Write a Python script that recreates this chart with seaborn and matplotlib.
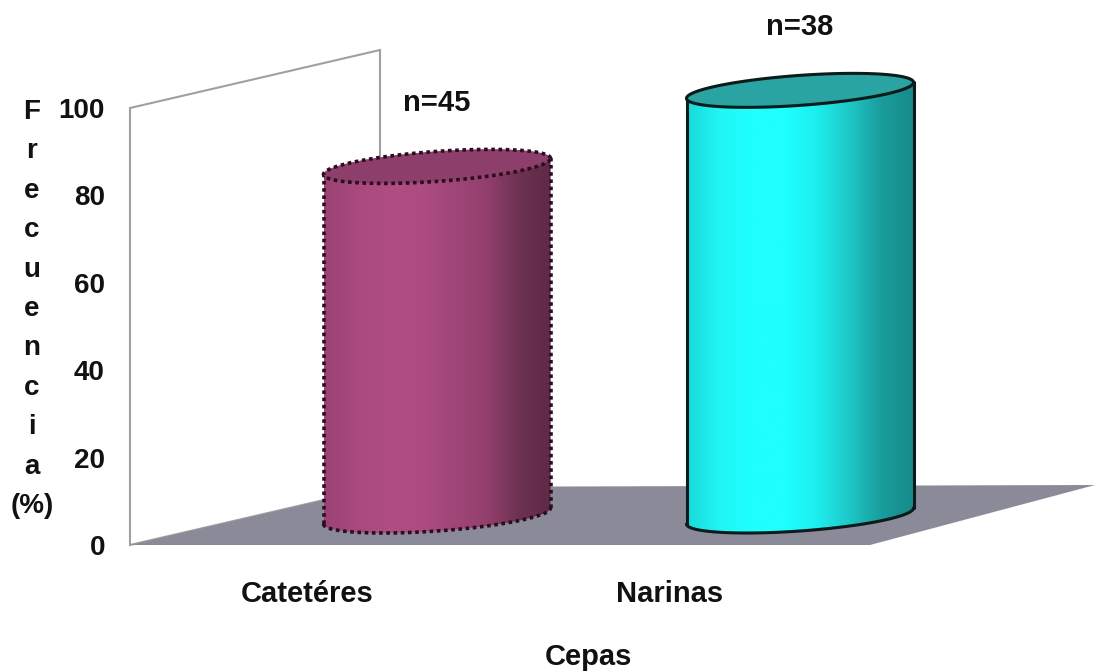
import numpy as np
import pandas as pd
import matplotlib.pyplot as plt
import seaborn as sns
from matplotlib.patches import Polygon
from matplotlib.colors import LinearSegmentedColormap

# Data
cepas = ['Catetéres', 'Narinas']
frecuencia = [80.0, 97.4]
n_labels = ['n=45', 'n=38']
yticks = [0, 20, 40, 60, 80, 100]

# Colours (body base, top cap, shading across the cylinder, outline)
body_colors = ['#A84A7D', '#1EFFFF']
top_colors = ['#8E3E6A', '#2AA3A3']
shades = [
    ['#9B4275', '#A84A7D', '#B04D82', '#AE4C81', '#A04678', '#93406E', '#6E3252', '#5E2A47'],
    ['#1ADADA', '#22F5F5', '#1EFFFF', '#1EFFFF', '#1DEEEE', '#20C8C8', '#1A9C9C', '#178A8A'],
]
edge_colors = ['#2B0E1E', '#0B1A1A']
edge_styles = [(0, (1, 1)), '-']

df = pd.DataFrame({'Cepas': cepas, 'Frecuencia': frecuencia})

sns.set_style('white')
plt.rcParams['font.family'] = ['Liberation Sans', 'DejaVu Sans']
plt.rcParams['font.weight'] = 'bold'
plt.rcParams['text.color'] = '#111111'
plt.rcParams['axes.labelcolor'] = '#111111'
plt.rcParams['xtick.color'] = '#111111'
plt.rcParams['ytick.color'] = '#111111'

W, H = 1099, 671
fig = plt.figure(figsize=(W / 100, H / 100), dpi=100)


def px_box(left, bottom, width, height):
    return [left / W, (H - bottom) / H, width / W, height / H]


# geometry of the fake 3D frame (pixels)
ax_w, ax_h = 965, 437
depth_x, depth_y = 250, 58
unit = 363
xmin = -(307 - 130) / unit
xlim = (xmin, xmin + ax_w / unit)
px_per_y = ax_h / 100

# front axes: ticks, labels, wall and floor
ax = fig.add_axes(px_box(130, 545, ax_w, ax_h))
ax.set_xlim(*xlim)
ax.set_ylim(0, 100)
for s in ax.spines.values():
    s.set_visible(False)
ax.patch.set_alpha(0)

wall = Polygon([(0, 0), (0, 1), (depth_x / ax_w, 1 + depth_y / ax_h), (depth_x / ax_w, depth_y / ax_h)],
               closed=True, facecolor='white', edgecolor='#A0A0A0', lw=1.5,
               transform=ax.transAxes, clip_on=False, zorder=0)
floor = Polygon([(0, 0), ((870 - 130) / ax_w, 0), (1.0, 60 / ax_h), (depth_x / ax_w, depth_y / ax_h)],
                closed=True, facecolor='#8B8A98', edgecolor='none',
                transform=ax.transAxes, clip_on=False, zorder=1)
ax.add_patch(wall)
ax.add_patch(floor)

ax.set_yticks(yticks)
ax.set_yticklabels([str(v) for v in yticks], fontsize=20, fontweight='bold')
ax.set_xticks(range(len(cepas)))
ax.set_xticklabels(cepas, fontsize=21, fontweight='bold')
ax.tick_params(axis='y', length=0, pad=18)
ax.tick_params(axis='x', length=0, pad=25)

ax.set_xlabel('Cepas', fontsize=21, fontweight='bold')
ax.xaxis.set_label_coords((588 - 130) / ax_w, -0.224)
ax.set_ylabel('\n'.join(list('Frecuencia') + ['(%)']), fontsize=20, fontweight='bold',
              rotation=0, ha='center', va='center', linespacing=1.67)
ax.yaxis.set_label_coords((32 - 130) / ax_w, (545 - 309) / ax_h)

# bar axes, shifted half the depth back
ax_bar = fig.add_axes(px_box(130 + 130, 545 - 29, ax_w, ax_h))
sns.barplot(data=df, x='Cepas', y='Frecuencia', hue='Cepas', palette=body_colors,
            width=227 / unit, saturation=1, legend=False, ax=ax_bar)

b = 15 / px_per_y   # ellipse half height
k = 8 / px_per_y    # tilt of the ellipse
t = np.linspace(0, 2 * np.pi, 241)
lower = np.linspace(np.pi, 2 * np.pi, 121)
upper = np.linspace(0, np.pi, 121)

for i, p in enumerate(ax_bar.patches):
    x0, w, h = p.get_x(), p.get_width(), p.get_height()
    cx = x0 + w / 2

    def ell(cy, tt):
        return np.column_stack([cx + w / 2 * np.cos(tt), cy + b * np.sin(tt) + k * np.cos(tt)])

    outline = np.vstack([ell(0, lower), ell(h, upper)])
    sil = Polygon(outline, closed=True, transform=ax_bar.transData, facecolor='none', edgecolor='none')
    p.set_clip_box(fig.bbox)
    p.set_clip_path(sil)

    cmap = LinearSegmentedColormap.from_list('c%d' % i, shades[i])
    grad = cmap(np.linspace(0, 1, 256))[np.newaxis, :, :]
    im = ax_bar.imshow(grad, extent=(x0, x0 + w, -k - b - 2, h + k + b + 2),
                       aspect='auto', interpolation='bilinear', zorder=2)
    im.set_clip_box(fig.bbox)
    im.set_clip_path(sil)

    ec, ls = edge_colors[i], edge_styles[i]
    lw = 2.6 if i == 0 else 2.2
    bot = ell(0, lower)
    ax_bar.plot(bot[:, 0], bot[:, 1], color=ec, ls=ls, lw=lw, zorder=3, clip_on=False)
    ax_bar.plot([x0, x0], [-k, h - k], color=ec, ls=ls, lw=lw, zorder=3, clip_on=False)
    ax_bar.plot([x0 + w, x0 + w], [k, h + k], color=ec, ls=ls, lw=lw, zorder=3, clip_on=False)
    cap = Polygon(ell(h, t), closed=True, facecolor=top_colors[i], edgecolor=ec,
                  ls=ls, lw=lw, zorder=4, clip_on=False)
    ax_bar.add_patch(cap)

    ax_bar.text(cx, h + 14.5, n_labels[i], ha='center', va='center',
                fontsize=21, fontweight='bold', clip_on=False)

ax_bar.set_xlim(*xlim)
ax_bar.set_ylim(0, 100)
ax_bar.axis('off')

fig.savefig('out.png', dpi=100)
